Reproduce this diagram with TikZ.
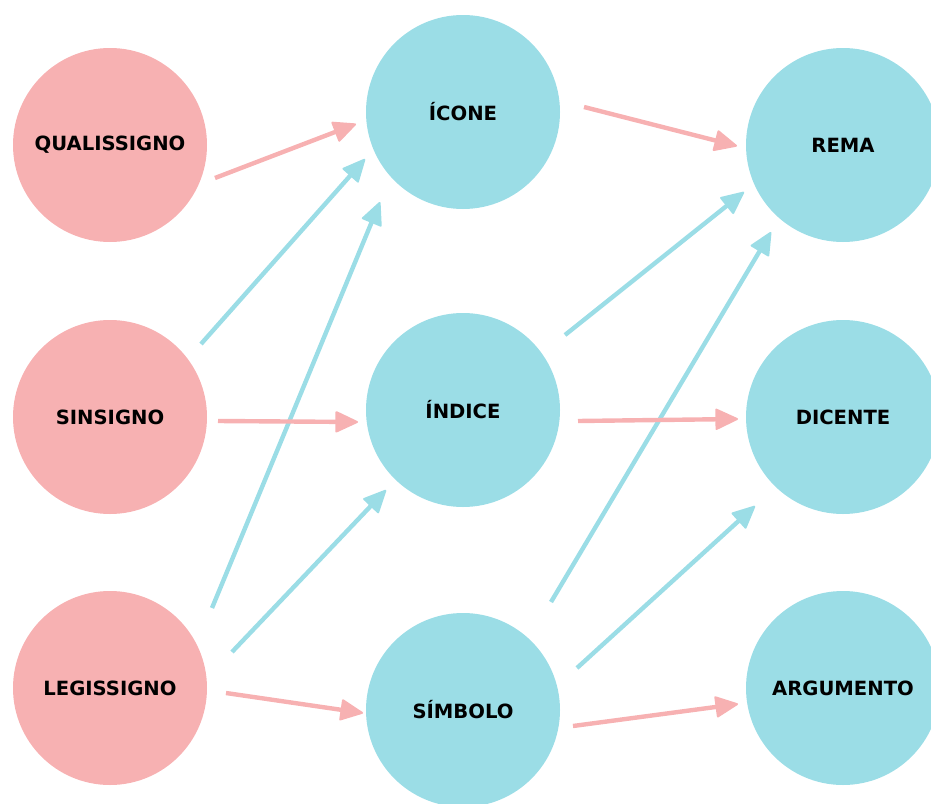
\documentclass[tikz,border=0pt]{standalone}
\usepackage{fontspec}
\setmainfont{DejaVu Sans}
\usetikzlibrary{arrows.meta,calc}
\definecolor{pinkc}{HTML}{F7B1B2}
\definecolor{bluec}{HTML}{9BDDE6}
\tikzset{
  circ/.style={circle,minimum size=194pt,inner sep=0pt,font=\fontsize{19.6}{19.6}\selectfont\bfseries,text=black},
  pinknode/.style={circ,fill=pinkc},
  bluenode/.style={circ,fill=bluec},
  conn/.style={line width=4.4pt,-{Triangle[length=24pt,width=22pt,line join=round,line width=2pt]}},
  pinkarrow/.style={conn,draw=pinkc,fill=pinkc},
  bluearrow/.style={conn,draw=bluec,fill=bluec},
}
\begin{document}
\begin{tikzpicture}[x=1pt,y=-1pt]
\useasboundingbox (0,0) rectangle (931,803);
\begin{scope}
\clip (0,0) rectangle (931,803);
\node[pinknode] (q) at (110,145) {QUALISSIGNO};
\node[pinknode] (s) at (110,417) {SINSIGNO};
\node[pinknode] (l) at (110,688) {LEGISSIGNO};
\node[bluenode] (ic) at (463,112) {ÍCONE};
\node[bluenode] (in) at (463,410) {ÍNDICE};
\node[bluenode] (sm) at (463,710) {SÍMBOLO};
\node[bluenode] (r) at (843,145) {REMA};
\node[bluenode] (d) at (843,417) {DICENTE};
\node[bluenode] (a) at (843,688) {ARGUMENTO};
\end{scope}
\draw[pinkarrow] ($(q)+(105,33)$) -- ($(ic)+(-107,12)$);
\draw[pinkarrow] ($(ic)+(121,-5)$) -- ($(r)+(-106,1)$);
\draw[bluearrow] ($(s)+(91,-73)$) -- ($(ic)+(-98,47)$);
\draw[bluearrow] ($(l)+(102,-80)$) -- ($(ic)+(-83,90)$);
\draw[pinkarrow] ($(s)+(108,4)$) -- ($(in)+(-105,12)$);
\draw[bluearrow] ($(in)+(102,-75)$) -- ($(r)+(-99,47)$);
\draw[bluearrow] ($(sm)+(88,-108)$) -- ($(r)+(-72,87)$);
\draw[pinkarrow] ($(in)+(115,11)$) -- ($(d)+(-105,2)$);
\draw[bluearrow] ($(l)+(122,-36)$) -- ($(in)+(-77,80)$);
\draw[bluearrow] ($(sm)+(114,-42)$) -- ($(d)+(-88,89)$);
\draw[pinkarrow] ($(l)+(116,5)$) -- ($(sm)+(-100,3)$);
\draw[pinkarrow] ($(sm)+(110,16)$) -- ($(a)+(-105,16)$);
\end{tikzpicture}
\end{document}
